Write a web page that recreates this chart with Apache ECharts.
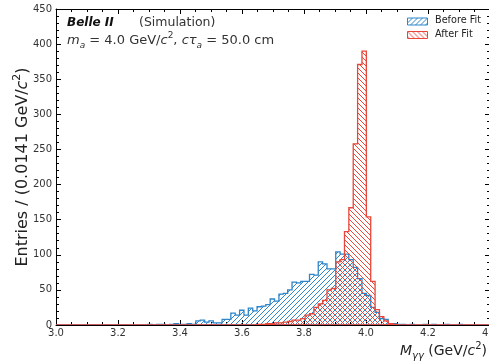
<!DOCTYPE html>
<html><head><meta charset="utf-8">
<script src="https://cdn.jsdelivr.net/npm/echarts@6/dist/echarts.min.js"></script>
<style>html,body{margin:0;padding:0;background:#fff}#c{width:489px;height:361px}</style>
</head><body><div id="c"></div>
<script>
// ---- data ----
const binLow = 3.0;
const binWidth = 0.0141;
const beforeFit = [
  0,0,0,0,0,0,0,0,0,0,
  0,0,0,0,0,0,0,0,0,0,
  0,1,0,1,1,0,1,2,1,1,
  2,1,6,7,4,6,3,3,8,8,
  17,14,21,14,24,20,26,27,29,37,
  34,44,45,50,61,60,62,62,72,71,
  90,87,80,80,104,101,101,93,82,66,
  45,42,25,18,9,8,1,2,1,1,
  0,1,0,0,1,0,1,0,0,1,
  0,0,1,0,0,0,0,0,0,0
];
const afterFit = [
  0,0,0,0,0,0,0,0,0,0,
  0,0,0,0,0,0,0,0,0,0,
  0,0,0,0,0,0,0,0,0,0,
  0,0,0,0,0,0,0,0,0,0,
  0,0,0,0,0,0,1,1,2,2,
  3,3,4,5,7,7,9,14,16,25,
  30,35,50,52,90,93,133,167,258,371,
  390,154,62,22,12,6,2,1,0,0,
  0,0,0,0,0,0,0,0,0,0,
  0,0,0,0,0,0,0,0,0,0
];
const xTickLabels = ['3.0','3.2','3.4','3.6','3.8','4.0','4.2','4.4'];
const yTickLabels = ['0','50','100','150','200','250','300','350','400','450'];
const seriesNames = ['Before Fit','After Fit'];

// ---- style ----
const BLUE = '#2f86c8';
const RED = '#e8463a';

function makeHatch(color, dir) {
  const s = 5;
  const c = document.createElement('canvas');
  c.width = s; c.height = s;
  const g = c.getContext('2d');
  g.strokeStyle = color; g.lineWidth = 1;
  g.beginPath();
  if (dir > 0) {
    g.moveTo(0, s); g.lineTo(s, 0);
    g.moveTo(-1, 1); g.lineTo(1, -1);
    g.moveTo(s - 1, s + 1); g.lineTo(s + 1, s - 1);
  } else {
    g.moveTo(0, 0); g.lineTo(s, s);
    g.moveTo(s - 1, -1); g.lineTo(s + 1, 1);
    g.moveTo(-1, s - 1); g.lineTo(1, s + 1);
  }
  g.stroke();
  return c;
}

function histSeries(name, counts, color, dir, z) {
  const pat = makeHatch(color, dir);
  return {
    type: 'custom', name: name, coordinateSystem: 'cartesian2d',
    xAxisIndex: 0, yAxisIndex: 0, z: z, clip: true, silent: true,
    data: [[binLow, 0]],
    renderItem: function (params, api) {
      const pts = [api.coord([binLow, 0])];
      counts.forEach(function (c, i) {
        const x0 = binLow + i * binWidth, x1 = x0 + binWidth;
        pts.push(api.coord([x0, c]));
        pts.push(api.coord([x1, c]));
      });
      pts.push(api.coord([binLow + counts.length * binWidth, 0]));
      return {
        type: 'polygon', shape: { points: pts },
        style: { fill: { image: pat, repeat: 'repeat' }, stroke: color, lineWidth: 1.3 }
      };
    }
  };
}

const FONT = 'DejaVu Sans';
const tickColor = '#333';
function xAxisCfg(pos, labels) {
  return {
    type: 'value', position: pos, min: 3.0, max: 4.4, interval: 0.2,
    axisLine: { show: true, onZero: false, lineStyle: { color: '#000', width: 1 } },
    axisTick: { show: true, inside: true, length: 5, lineStyle: { color: '#000' } },
    minorTick: { show: true, splitNumber: 4, length: 3, lineStyle: { color: '#000' } },
    splitLine: { show: false },
    axisLabel: {
      show: labels, fontFamily: FONT, fontSize: 10, color: tickColor, margin: 3,
      formatter: function (v) { return xTickLabels[Math.round((v - 3.0) / 0.2)]; }
    }
  };
}
function yAxisCfg(pos, labels) {
  return {
    type: 'value', position: pos, min: 0, max: 450, interval: 50,
    axisLine: { show: true, onZero: false, lineStyle: { color: '#000', width: 1 } },
    axisTick: { show: true, inside: true, length: 5, lineStyle: { color: '#000' } },
    minorTick: { show: true, splitNumber: 5, length: 3, lineStyle: { color: '#000' } },
    splitLine: { show: false },
    axisLabel: {
      show: labels, fontFamily: FONT, fontSize: 10, color: tickColor, margin: 4,
      formatter: function (v) { return yTickLabels[Math.round(v / 50)]; }
    }
  };
}

const chart = echarts.init(document.getElementById('c'), null, { renderer: 'canvas' });

function legendItem(y, color, dir, text) {
  return [
    { type: 'rect', left: 407, top: y - 4, shape: { width: 20, height: 7 },
      style: { fill: { image: makeHatch(color, dir), repeat: 'repeat' }, stroke: color, lineWidth: 1 }, z: 10 },
    { type: 'text', left: 435, top: y - 6, z: 10,
      style: { text: text, fontFamily: FONT, fontSize: 9.7, fill: '#222' } }
  ];
}

chart.setOption({
  animation: false,
  backgroundColor: '#fff',
  grid: { left: 56, top: 9, width: 434, height: 316, outerBoundsMode: 'none', containLabel: false },
  xAxis: [xAxisCfg('bottom', true), xAxisCfg('top', false)],
  yAxis: [yAxisCfg('left', true), yAxisCfg('right', false)],
  series: [
    histSeries(seriesNames[0], beforeFit, BLUE, 1, 2),
    histSeries(seriesNames[1], afterFit, RED, -1, 3)
  ],
  graphic: [].concat(
    legendItem(21.5, BLUE, 1, seriesNames[0]),
    legendItem(35, RED, -1, seriesNames[1]),
    [
      { type: 'text', x: 67, y: 23, z: 10,
        style: { text: 'Belle II', fontFamily: FONT, fontSize: 12, fontWeight: 'bold', fontStyle: 'italic', fill: '#111', verticalAlign: 'middle' } },
      { type: 'text', x: 139, y: 23, z: 10,
        style: { text: '(Simulation)', fontFamily: FONT, fontSize: 12.5, fill: '#333', verticalAlign: 'middle' } },
      { type: 'text', left: 67, top: 31, z: 10,
        style: {
          text: '{i|m}{s|a}{n| = 4.0 GeV/}{i|c}{p|2}{n|, }{i|cτ}{s|a}{n| = 50.0 cm}',
          rich: {
            i: { fontFamily: FONT, fontSize: 13, fontStyle: 'italic', fill: '#333', lineHeight: 16, verticalAlign: 'bottom' },
            n: { fontFamily: FONT, fontSize: 13, fill: '#333', lineHeight: 16, verticalAlign: 'bottom' },
            s: { fontFamily: FONT, fontSize: 9, fill: '#333', fontStyle: 'italic', lineHeight: 12, verticalAlign: 'bottom', padding: [0, 0, -3, 0] },
            p: { fontFamily: FONT, fontSize: 9, fill: '#333', lineHeight: 9, verticalAlign: 'top' }
          }
        } },
      { type: 'text', right: 2, top: 341, z: 10,
        style: {
          text: '{i|M}{s|γγ}{n| (GeV/}{i|c}{p|2}{n|)}',
          rich: {
            i: { fontFamily: FONT, fontSize: 14, fontStyle: 'italic', fill: '#222', lineHeight: 17, verticalAlign: 'bottom' },
            n: { fontFamily: FONT, fontSize: 14, fill: '#222', lineHeight: 17, verticalAlign: 'bottom' },
            s: { fontFamily: FONT, fontSize: 10, fontStyle: 'italic', fill: '#222', lineHeight: 13, verticalAlign: 'bottom', padding: [0, 0, -3, 0] },
            p: { fontFamily: FONT, fontSize: 10, fill: '#222', lineHeight: 10, verticalAlign: 'top' }
          }
        } },
      { type: 'text', x: 21, y: 167, rotation: Math.PI / 2, z: 10,
        style: {
          text: '{n|Entries / (0.0141 GeV/}{i|c}{p|2}{n|)}',
          align: 'center', verticalAlign: 'middle',
          rich: {
            i: { fontFamily: FONT, fontSize: 16, fontStyle: 'italic', fill: '#222', lineHeight: 19, verticalAlign: 'bottom' },
            n: { fontFamily: FONT, fontSize: 16, fill: '#222', lineHeight: 19, verticalAlign: 'bottom' },
            p: { fontFamily: FONT, fontSize: 11, fill: '#222', lineHeight: 11, verticalAlign: 'top' }
          }
        } }
    ]
  )
});
</script>
</body></html>
